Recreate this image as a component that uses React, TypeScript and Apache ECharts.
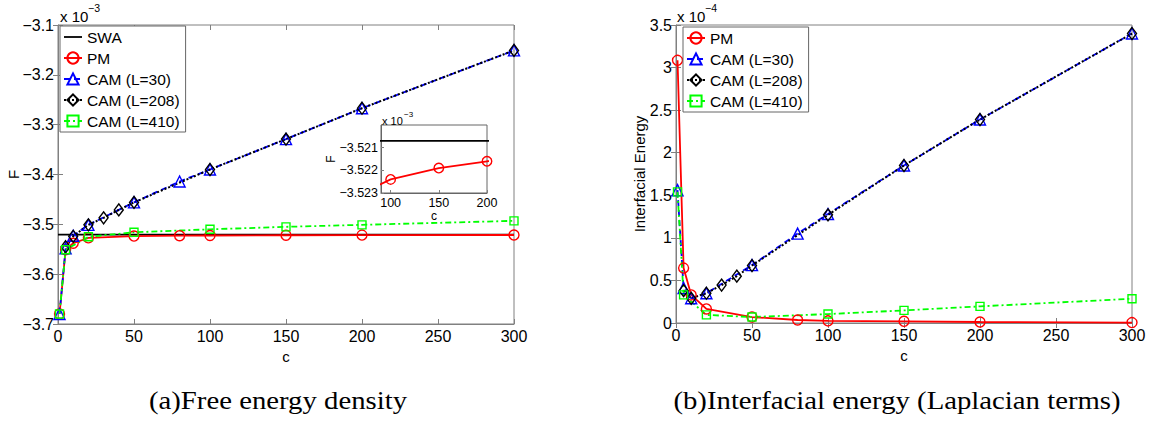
import React, { useEffect, useRef } from "react";
import * as echarts from "echarts";

// ---------- data ----------
// (a) free energy density F, in units of 1e-3
const F_SWA = -3.5207;
const cSWA = [0, 300];
const cPM = [1, 5, 10, 20, 50, 80, 100, 150, 200, 300];
const F_PM = [-3.68, -3.551, -3.538, -3.527, -3.5235, -3.5228, -3.5224, -3.5219, -3.5216, -3.5214];
const cL30 = [1, 5, 10, 20, 50, 80, 100, 150, 200, 300];
const F_L30 = [-3.68, -3.548, -3.523, -3.501, -3.456, -3.414, -3.39, -3.329, -3.267, -3.151];
const cL208 = [5, 10, 20, 30, 40, 50, 100, 150, 200, 300];
const F_L208 = [-3.545, -3.524, -3.501, -3.487, -3.471, -3.456, -3.39, -3.329, -3.267, -3.151];
const cL410 = [1, 5, 20, 50, 100, 150, 200, 300];
const F_L410 = [-3.68, -3.551, -3.525, -3.516, -3.51, -3.505, -3.501, -3.493];

// (b) interfacial energy, in units of 1e-4
const E_PM = [3.085, 0.645, 0.33, 0.165, 0.07, 0.035, 0.025, 0.02, 0.012, 0.005];
const E_L30 = [1.56, 0.41, 0.29, 0.35, 0.68, 1.05, 1.28, 1.85, 2.39, 3.4];
const E_L208 = [0.38, 0.29, 0.35, 0.445, 0.55, 0.675, 1.27, 1.85, 2.39, 3.4];
const E_L410 = [1.54, 0.33, 0.095, 0.07, 0.105, 0.148, 0.195, 0.285];

// tick values
const insetXTicks = [100, 150, 200];
const insetYTicks = [-3.523, -3.522, -3.521];

const names = ["SWA", "PM", "CAM (L=30)", "CAM (L=208)", "CAM (L=410)"];
const captionA = "(a)Free energy density";
const captionB = "(b)Interfacial energy (Laplacian terms)";

const zip = (xs: number[], ys: number[]) => xs.map((x, i) => [x, ys[i]]);

const SANS = "Liberation Sans";
const SERIF = "Liberation Serif";
const GRAY = "#808080";

const minus = (s: string) => s.replace("-", "\u2212");

export default function App() {
  const ref = useRef<HTMLDivElement>(null);
  useEffect(() => {
    document.body.style.margin = "0";
    const chart = echarts.init(ref.current!, null, { renderer: "svg" });

    const tick = (len = 5) => ({ show: true, inside: true, length: len, lineStyle: { color: GRAY, width: 1 } });
    const lbl = (size = 16, extra: any = {}) => ({ color: "#000", fontFamily: SANS, fontSize: size, ...extra });

    const xMain = (grid: number) => ({
      type: "value", gridIndex: grid, min: 0, max: 300, interval: 50,
      name: "c", nameLocation: "middle", nameGap: 16,
      nameTextStyle: { color: "#000", fontFamily: SANS, fontSize: 15 },
      axisLine: { show: true, onZero: false, lineStyle: { color: GRAY } },
      axisTick: tick(), axisLabel: lbl(16, { margin: 4 }), splitLine: { show: false },
    });
    const xTop = (grid: number) => ({
      type: "value", gridIndex: grid, position: "top", min: 0, max: 300, interval: 50,
      axisLine: { show: false }, axisTick: tick(), axisLabel: { show: false }, splitLine: { show: false },
    });

    const styleOf = (name: string) => {
      switch (name) {
        case "SWA": return { color: "#000", type: "solid", symbol: "none", size: 0 };
        case "PM": return { color: "#ff0000", type: "solid", symbol: "circle", size: 10 };
        case "CAM (L=30)": return { color: "#0000ff", type: [6, 4], symbol: "triangle", size: 11 };
        case "CAM (L=208)": return { color: "#000", type: [2, 2], symbol: "diamond", size: [9, 12] };
        default: return { color: "#00ff00", type: [6, 3, 2, 3], symbol: "rect", size: 8 };
      }
    };
    const mk = (name: string, data: number[][], xi: number, yi: number, z = 2, sizeScale = 1) => {
      const s = styleOf(name);
      const size = Array.isArray(s.size) ? s.size.map((v: number) => v * sizeScale) : (s.size as number) * sizeScale;
      const isSWA = name === "SWA";
      return {
        type: "line", name, data, xAxisIndex: xi, yAxisIndex: yi, z,
        symbol: s.symbol, symbolSize: size, showSymbol: !isSWA,
        lineStyle: { color: s.color, width: name === "CAM (L=208)" ? 2 : 1.8, type: s.type },
        itemStyle: isSWA
          ? { color: "#000" }
          : { color: "rgba(255,255,255,0)", borderColor: s.color, borderWidth: 1.4 },
        emphasis: { disabled: true }, clip: true,
      };
    };

    const legendData = (list: string[]) =>
      list.map((n) => (n === "SWA" ? { name: n, icon: "path://M0,0 L18,0 L18,1.8 L0,1.8 Z" } : { name: n }));

    const option: any = {
      animation: false,
      grid: [
        { left: 58, top: 25, width: 456, height: 299, show: true, borderColor: GRAY, borderWidth: 1, backgroundColor: "#fff" },
        { left: 676, top: 25, width: 456, height: 298, show: true, borderColor: GRAY, borderWidth: 1, backgroundColor: "#fff" },
        { left: 381, top: 125, width: 106, height: 68, show: true, borderColor: "#666", borderWidth: 1, backgroundColor: "#fff", z: 5 },
      ],
      xAxis: [
        xMain(0), xTop(0), xMain(1), xTop(1),
        {
          type: "value", gridIndex: 2, min: 90, max: 200,
          name: "c", nameLocation: "middle", nameGap: 17,
          nameTextStyle: { color: "#000", fontFamily: SANS, fontSize: 12 },
          axisLine: { show: true, onZero: false, lineStyle: { color: "#666" } },
          axisTick: { ...tick(3), customValues: insetXTicks },
          axisLabel: lbl(12.5, { margin: 3, customValues: insetXTicks }),
          splitLine: { show: false }, z: 5,
        },
      ],
      yAxis: [
        {
          type: "value", gridIndex: 0, min: -3.7, max: -3.1, interval: 0.1,
          name: "F", nameLocation: "middle", nameGap: 37, nameRotate: 90, nameMoveOverlap: false,
          nameTextStyle: { color: "#000", fontFamily: SANS, fontSize: 15 },
          axisLine: { show: true, onZero: false, lineStyle: { color: GRAY } },
          axisTick: tick(), splitLine: { show: false },
          axisLabel: lbl(16, { margin: 4, formatter: (v: number) => minus(v.toFixed(1)) }),
        },
        {
          type: "value", gridIndex: 0, position: "right", min: -3.7, max: -3.1, interval: 0.1,
          axisLine: { show: false }, axisTick: tick(), axisLabel: { show: false }, splitLine: { show: false },
        },
        {
          type: "value", gridIndex: 1, min: 0, max: 3.5, interval: 0.5,
          name: "Interfacial Energy", nameLocation: "middle", nameGap: 29, nameRotate: 90, nameMoveOverlap: false,
          nameTextStyle: { color: "#000", fontFamily: SANS, fontSize: 15 },
          axisLine: { show: true, onZero: false, lineStyle: { color: GRAY } },
          axisTick: tick(), splitLine: { show: false },
          axisLabel: lbl(16, { margin: 4 }),
        },
        {
          type: "value", gridIndex: 1, position: "right", min: 0, max: 3.5, interval: 0.5,
          axisLine: { show: false }, axisTick: tick(), axisLabel: { show: false }, splitLine: { show: false },
        },
        {
          type: "value", gridIndex: 2, min: -3.523, max: -3.52,
          name: "F", nameLocation: "middle", nameGap: 44, nameRotate: 90, nameMoveOverlap: false,
          nameTextStyle: { color: "#000", fontFamily: SANS, fontSize: 12 },
          axisLine: { show: true, onZero: false, lineStyle: { color: "#666" } },
          axisTick: { ...tick(3), customValues: insetYTicks },
          splitLine: { show: false },
          axisLabel: lbl(12.5, { margin: 3, customValues: insetYTicks, formatter: (v: number) => minus(v.toFixed(3)) }),
          z: 5,
        },
      ],
      legend: [
        {
          data: legendData(names), orient: "vertical", left: 60, top: 26,
          itemWidth: 18, itemHeight: 14, itemGap: 5, padding: [3, 6, 3, 3],
          borderColor: "#666", borderWidth: 1, backgroundColor: "#fff",
          textStyle: { fontFamily: SANS, fontSize: 15.5, color: "#000" },
          selectedMode: false,
        },
        {
          data: legendData(names.slice(1)), orient: "vertical", left: 683, top: 27,
          itemWidth: 18, itemHeight: 14, itemGap: 5, padding: [3, 6, 3, 3],
          borderColor: "#666", borderWidth: 1, backgroundColor: "#fff",
          textStyle: { fontFamily: SANS, fontSize: 15.5, color: "#000" },
          selectedMode: false,
        },
      ],
      series: [
        mk("SWA", cSWA.map((c) => [c, F_SWA]), 0, 0),
        mk("PM", zip(cPM, F_PM), 0, 0),
        mk("CAM (L=30)", zip(cL30, F_L30), 0, 0),
        mk("CAM (L=208)", zip(cL208, F_L208), 0, 0),
        mk("CAM (L=410)", zip(cL410, F_L410), 0, 0),
        mk("PM", zip(cPM, E_PM), 2, 2),
        mk("CAM (L=30)", zip(cL30, E_L30), 2, 2),
        mk("CAM (L=208)", zip(cL208, E_L208), 2, 2),
        mk("CAM (L=410)", zip(cL410, E_L410), 2, 2),
        mk("SWA", cSWA.map((c) => [c, F_SWA]), 4, 4, 6),
        mk("PM", zip(cPM, F_PM), 4, 4, 6, 0.95),
      ],
      graphic: [
        { type: "text", x: 60, y: 9, style: { text: "x 10", fontFamily: SANS, fontSize: 15, fill: "#000" } },
        { type: "text", x: 88, y: 2, style: { text: "\u22123", fontFamily: SANS, fontSize: 10.5, fill: "#000" } },
        { type: "text", x: 677, y: 9, style: { text: "x 10", fontFamily: SANS, fontSize: 15, fill: "#000" } },
        { type: "text", x: 705, y: 2, style: { text: "\u22124", fontFamily: SANS, fontSize: 10.5, fill: "#000" } },
        { type: "text", x: 382, y: 115, z: 10, style: { text: "x 10", fontFamily: SANS, fontSize: 11, fill: "#000" } },
        { type: "text", x: 404, y: 110, z: 10, style: { text: "\u22123", fontFamily: SANS, fontSize: 8, fill: "#000" } },
        {
          type: "text", x: 278, y: 401, scaleX: 1.15,
          style: { text: captionA, fontFamily: SERIF, fontSize: 25, fill: "#000", align: "center", verticalAlign: "middle" },
        },
        {
          type: "text", x: 897, y: 401, scaleX: 1.15,
          style: { text: captionB, fontFamily: SERIF, fontSize: 25, fill: "#000", align: "center", verticalAlign: "middle" },
        },
      ],
    };
    chart.setOption(option);
    return () => chart.dispose();
  }, []);
  return <div ref={ref} style={{ width: 1150, height: 432 }} />;
}
